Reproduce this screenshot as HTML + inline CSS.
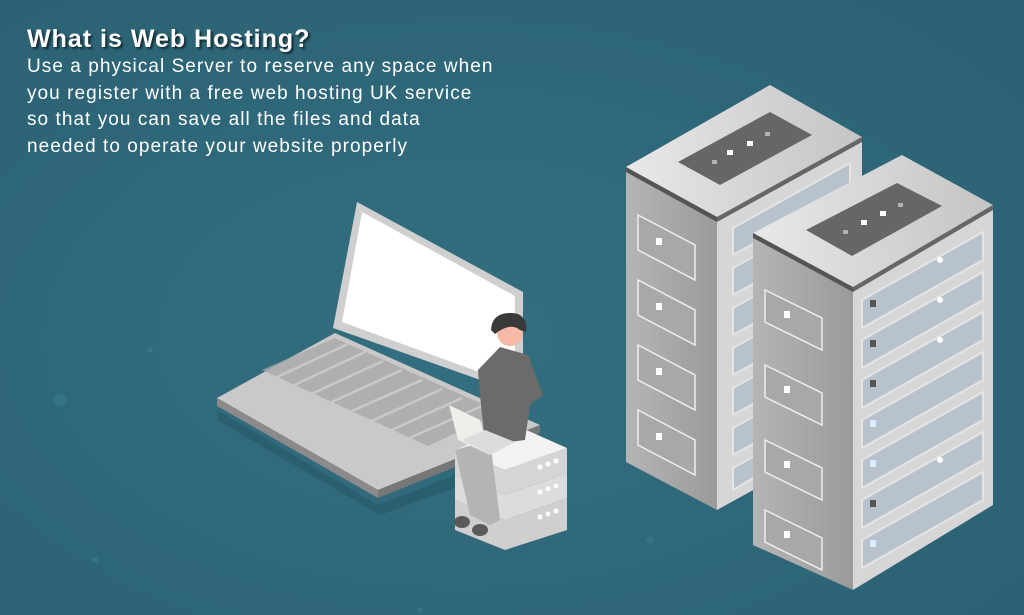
<!DOCTYPE html>
<html><head><meta charset="utf-8"><style>
html,body{margin:0;padding:0;}
body{width:1024px;height:615px;overflow:hidden;background:#2f6a7c;position:relative;font-family:"Liberation Sans",sans-serif;}
svg{position:absolute;left:0;top:0;}
.t{position:absolute;left:27px;top:24px;color:#fff;}
h1{margin:0;font-size:25px;font-weight:bold;letter-spacing:1px;text-shadow:2px 2px 2px rgba(0,0,0,.6);line-height:30px;}
p{margin:0;font-size:19px;line-height:26.5px;letter-spacing:1.05px;}
</style></head><body>
<svg width="1024" height="615" viewBox="0 0 1024 615">
<defs>
<radialGradient id="bg" cx="0.45" cy="0.55" r="0.7"><stop offset="0" stop-color="#336f80"/><stop offset="1" stop-color="#2b6274"/></radialGradient>
<linearGradient id="side" x1="0" x2="1"><stop offset="0" stop-color="#b5b5b5"/><stop offset="1" stop-color="#9a9a9a"/></linearGradient>
<linearGradient id="top" x1="0" x2="1"><stop offset="0" stop-color="#e8e8e8"/><stop offset="1" stop-color="#c4c4c4"/></linearGradient>
</defs>
<rect width="1024" height="615" fill="url(#bg)"/>
<g fill="#3b7d8d" opacity=".6"><circle cx="60" cy="400" r="6"/><circle cx="150" cy="350" r="3"/><circle cx="95" cy="560" r="3"/><circle cx="420" cy="610" r="3"/><circle cx="650" cy="540" r="4"/></g>
<polygon points="217,410 378,505 545,440 545,455 380,515 217,420" fill="#245868" opacity=".6"/>
<polygon points="357,202 523,292 523,395 333,328" fill="#cfcfcf"/>
<polygon points="362,212 515,296 515,385 342,322" fill="#fff"/>
<polygon points="217,398 335,333 540,425 378,490" fill="#c9c9c9"/>
<polygon points="217,398 378,490 378,498 217,406" fill="#8a8a8a"/>
<polygon points="378,490 540,425 540,433 378,498" fill="#777"/>
<polygon points="262,370 335,338 500,412 428,446" fill="#a9a9a9" opacity=".8"/>
<g stroke="#c9c9c9" stroke-width="2.5"><line x1="275" y1="378" x2="348" y2="344"/><line x1="290" y1="387" x2="365" y2="352"/><line x1="307" y1="396" x2="383" y2="361"/><line x1="325" y1="405" x2="402" y2="370"/><line x1="345" y1="414" x2="422" y2="380"/><line x1="365" y1="424" x2="442" y2="389"/><line x1="385" y1="433" x2="462" y2="398"/><line x1="405" y1="440" x2="482" y2="406"/></g>
<g>
<polygon points="455,500 505,520 567,498 567,530 505,550 455,530" fill="#cfcfcf"/>
<polygon points="455,475 505,495 567,473 567,498 505,520 455,500" fill="#dcdcdc"/>
<polygon points="455,450 505,470 567,448 567,473 505,495 455,475" fill="#d5d5d5"/>
<polygon points="455,450 515,425 567,448 505,470" fill="#f2f2f2"/>
<g fill="#fff"><circle cx="540" cy="467" r="2.5"/><circle cx="548" cy="464" r="2.5"/><circle cx="556" cy="461" r="2.5"/><circle cx="540" cy="492" r="2.5"/><circle cx="548" cy="489" r="2.5"/><circle cx="556" cy="486" r="2.5"/><circle cx="540" cy="517" r="2.5"/><circle cx="548" cy="514" r="2.5"/><circle cx="556" cy="511" r="2.5"/></g>
</g>
<polygon points="455,450 490,440 500,520 490,525 470,515" fill="#b4b4b4"/>
<ellipse cx="462" cy="522" rx="8" ry="6" fill="#5a5a5a"/><ellipse cx="480" cy="530" rx="8" ry="6" fill="#5a5a5a"/>
<polygon points="478,370 500,347 528,355 543,395 530,405 525,440 485,445 480,395" fill="#6b6b6b"/>
<circle cx="510" cy="333" r="13" fill="#f5b9a6"/>
<path d="M491,330 Q492,312 512,313 Q528,314 526,332 L520,330 Q510,322 495,334Z" fill="#3a3a3a"/>
<polygon points="449,405 480,420 490,455 458,440" fill="#eeeeeb"/>
<polygon points="462,440 490,455 515,442 485,430" fill="#dcdcdc"/>
<polygon points="626,167 717,217 717,510 626,462" fill="url(#side)"/>
<polygon points="717,217 862,137 862,430 717,510" fill="#d6d6d6"/>
<polygon points="626,167 770,85 862,137 717,217" fill="url(#top)"/>
<polygon points="626,167 717,217 717,222 626,172" fill="#555"/>
<polygon points="717,217 862,137 862,142 717,222" fill="#666"/>
<polygon points="678,162 770,112 812,135 720,185" fill="#666"/>
<g fill="#fff"><rect x="727" y="150" width="6" height="5"/><rect x="747" y="141" width="6" height="5"/><rect x="765" y="132" width="5" height="4" opacity=".5"/><rect x="712" y="160" width="5" height="4" opacity=".5"/></g>
<g fill="#a8a8a8" stroke="#eee" stroke-width="1.5">
<polygon points="638,215 695,245 695,280 638,250"/><polygon points="638,280 695,310 695,345 638,315"/><polygon points="638,345 695,375 695,410 638,380"/><polygon points="638,410 695,440 695,475 638,445"/></g>
<g fill="#fff"><rect x="656" y="238" width="6" height="7"/><rect x="656" y="303" width="6" height="7"/><rect x="656" y="368" width="6" height="7"/><rect x="656" y="433" width="6" height="7"/></g>
<g fill="#b8c2cc" stroke="#e4e4e4" stroke-width="2"><polygon points="733,228 850,163 850,190 733,255"/><polygon points="733,268 850,203 850,230 733,295"/><polygon points="733,308 850,243 850,270 733,335"/><polygon points="733,348 850,283 850,310 733,375"/><polygon points="733,388 850,323 850,350 733,415"/><polygon points="733,428 850,363 850,390 733,455"/><polygon points="733,468 850,403 850,420 733,490"/></g>
<polygon points="753,233 853,287 853,590 753,545" fill="url(#side)"/>
<polygon points="853,287 993,205 993,505 853,590" fill="#d6d6d6"/>
<polygon points="753,233 902,155 993,205 853,287" fill="url(#top)"/>
<polygon points="753,233 853,287 853,292 753,238" fill="#555"/>
<polygon points="853,287 993,205 993,210 853,292" fill="#666"/>
<polygon points="806,230 897,183 942,206 852,256" fill="#666"/>
<g fill="#fff"><rect x="861" y="220" width="6" height="5"/><rect x="880" y="211" width="6" height="5"/><rect x="898" y="203" width="5" height="4" opacity=".5"/><rect x="843" y="230" width="5" height="4" opacity=".5"/></g>
<g fill="#a8a8a8" stroke="#eee" stroke-width="1.5">
<polygon points="765,290 822,318 822,350 765,322"/><polygon points="765,365 822,393 822,425 765,397"/><polygon points="765,440 822,468 822,500 765,472"/><polygon points="765,510 822,538 822,570 765,542"/></g>
<g fill="#fff"><rect x="784" y="311" width="6" height="7"/><rect x="784" y="386" width="6" height="7"/><rect x="784" y="461" width="6" height="7"/><rect x="784" y="531" width="6" height="7"/></g>
<g fill="#b8c2cc" stroke="#e4e4e4" stroke-width="2">
<polygon points="862,300 983,232 983,260 862,328"/><polygon points="862,340 983,272 983,300 862,368"/><polygon points="862,380 983,312 983,340 862,408"/><polygon points="862,420 983,352 983,380 862,448"/><polygon points="862,460 983,392 983,420 862,488"/><polygon points="862,500 983,432 983,460 862,528"/><polygon points="862,540 983,472 983,500 862,568"/></g>
<g fill="#555"><rect x="870" y="300" width="6" height="7"/><rect x="870" y="340" width="6" height="7"/><rect x="870" y="380" width="6" height="7"/><rect x="870" y="500" width="6" height="7"/></g>
<g fill="#d8ecff"><rect x="870" y="420" width="6" height="7"/><rect x="870" y="460" width="6" height="7"/><rect x="870" y="540" width="6" height="7"/></g>
<g fill="#fff"><circle cx="940" cy="260" r="3"/><circle cx="940" cy="300" r="3"/><circle cx="940" cy="340" r="3"/><circle cx="940" cy="460" r="3"/></g>
</svg>
<div class="t"><h1>What is Web Hosting?</h1>
<p>Use a physical Server to reserve any space when<br>you register with a free web hosting UK service<br>so that you can save all the files and data<br>needed to operate your website properly</p></div>
</body></html>
